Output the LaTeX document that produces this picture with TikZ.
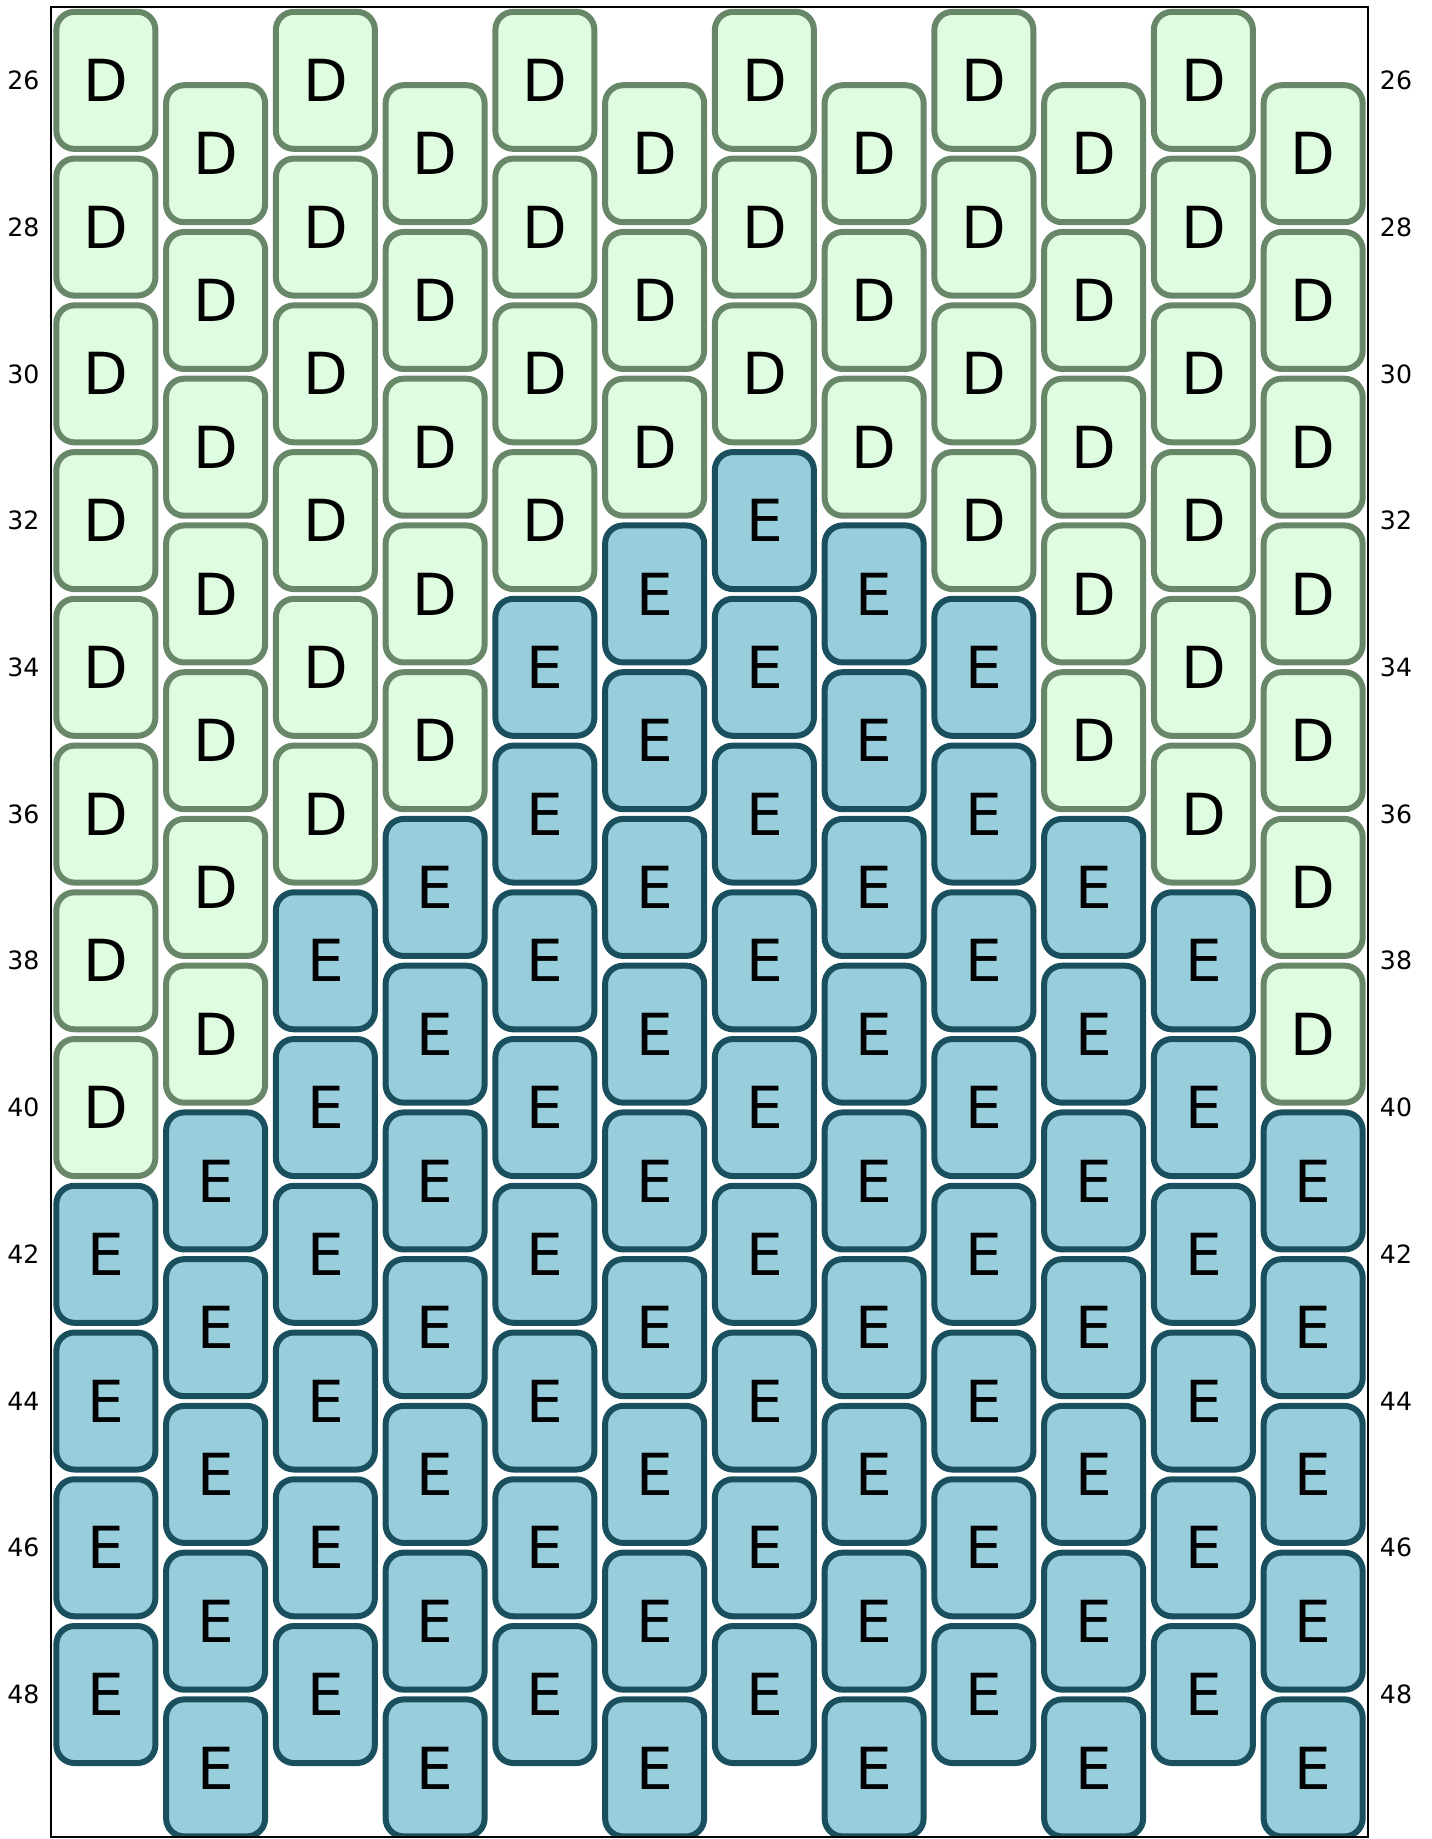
\documentclass[tikz,border=0pt]{standalone}
\usepackage{fontspec}
\setmainfont{DejaVu Sans}
\usepackage{xcolor}
\definecolor{Dfill}{RGB}{224,252,224}
\definecolor{Ddraw}{RGB}{104,134,104}
\definecolor{Efill}{RGB}{152,206,220}
\definecolor{Edraw}{RGB}{26,80,94}

\tikzset{
  bead/.style={rectangle, rounded corners=9pt, line width=3pt,
    minimum width=49.5pt, minimum height=68.5pt, inner sep=0pt,
    fill=#1fill, draw=#1draw, font=\fontsize{29}{29}\selectfont},
  rowlabel/.style={font=\fontsize{12.6}{12.6}\selectfont}
}

\begin{document}
\begin{tikzpicture}[x=0.5pt, y=-0.5pt]

  \useasboundingbox (0,0) rectangle (1431,1839);

  % ---- the beads, column by column; rows after the last D are E ----
  \begin{scope}
    \clip (51,7) rectangle (1368,1837);
    \foreach \col/\lastD in {0/40,1/39,2/36,3/35,4/32,5/31,6/30,7/31,8/32,9/35,10/36,11/39} {
      \foreach \k in {0,...,11} {
        \pgfmathtruncatemacro\row{26+mod(\col,2)+2*\k}
        \ifnum\row>\lastD \def\letter{E}\else\def\letter{D}\fi
        \node[bead=\letter] (b-\col-\row) at ({51+(\col+0.5)*109.75}, {7+(\row-25)*73.37}) {\letter};
      }
    }
  \end{scope}

  % ---- frame ----
  \draw[line width=1.25pt] (51,7) rectangle (1368,1837);

  % ---- row numbers on both sides ----
  \foreach \row in {26,28,...,48} {
    \node[rowlabel] (l-\row) at (23.5, {7+(\row-25)*73.37}) {\row};
    \node[rowlabel] (r-\row) at (1396, {7+(\row-25)*73.37}) {\row};
  }

\end{tikzpicture}
\end{document}
